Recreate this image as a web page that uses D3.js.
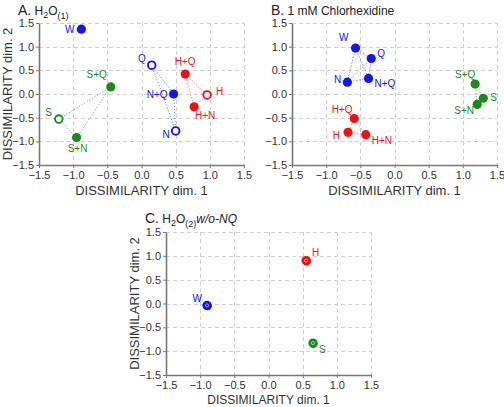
<!DOCTYPE html>
<html><head><meta charset="utf-8">
<script src="https://cdn.jsdelivr.net/npm/d3@7"></script>
<style>
body{margin:0;background:#fff;}
svg{font-family:"Liberation Sans",Arial,sans-serif;}
</style></head>
<body>
<svg id="chart" width="504" height="407"></svg>
<script>
// ---------- DATA ----------
const tickValues = [-1.5, -1.0, -0.5, 0.0, 0.5, 1.0, 1.5];
const axisDomain = [-1.5, 1.5];

// panel A: H2O(1)
const pointsA = [
  {name:"W",   group:"water",  d1:-0.88, d2: 1.37, filled:true},
  {name:"Q",   group:"water",  d1: 0.15, d2: 0.61, filled:false},
  {name:"N+Q", group:"water",  d1: 0.47, d2: 0.00, filled:true},
  {name:"N",   group:"water",  d1: 0.50, d2:-0.78, filled:false},
  {name:"H+Q", group:"hcl",    d1: 0.64, d2: 0.42, filled:true},
  {name:"H",   group:"hcl",    d1: 0.96, d2:-0.02, filled:false},
  {name:"H+N", group:"hcl",    d1: 0.77, d2:-0.27, filled:true},
  {name:"S+Q", group:"sucrose",d1:-0.45, d2: 0.15, filled:true},
  {name:"S",   group:"sucrose",d1:-1.21, d2:-0.53, filled:false},
  {name:"S+N", group:"sucrose",d1:-0.95, d2:-0.92, filled:true}
];
const linksA = [["Q","N+Q"],["Q","N"],["N+Q","N"],["H+Q","H"],["H+Q","H+N"],["H","H+N"],["S+Q","S"],["S+Q","S+N"],["S","S+N"]];

// panel B: 1 mM Chlorhexidine
const pointsB = [
  {name:"W",   group:"water",  d1:-0.57, d2: 0.97, filled:true},
  {name:"Q",   group:"water",  d1:-0.34, d2: 0.75, filled:true},
  {name:"N",   group:"water",  d1:-0.69, d2: 0.25, filled:true},
  {name:"N+Q", group:"water",  d1:-0.38, d2: 0.33, filled:true},
  {name:"H+Q", group:"hcl",    d1:-0.59, d2:-0.52, filled:true},
  {name:"H",   group:"hcl",    d1:-0.68, d2:-0.81, filled:true},
  {name:"H+N", group:"hcl",    d1:-0.42, d2:-0.86, filled:true},
  {name:"S+Q", group:"sucrose",d1: 1.18, d2: 0.21, filled:true},
  {name:"S",   group:"sucrose",d1: 1.30, d2:-0.09, filled:true},
  {name:"S+N", group:"sucrose",d1: 1.21, d2:-0.22, filled:true}
];
const linksB = [["W","Q"],["W","N"],["W","N+Q"],["Q","N"],["Q","N+Q"],["N","N+Q"],["H+Q","H"],["H+Q","H+N"],["H","H+N"],["S+Q","S"],["S+Q","S+N"],["S","S+N"]];

// panel C: H2O(2) w/o-NQ
const pointsC = [
  {name:"W", group:"water",  d1:-0.90, d2:-0.04, filled:true},
  {name:"H", group:"hcl",    d1: 0.55, d2: 0.90, filled:true},
  {name:"S", group:"sucrose",d1: 0.65, d2:-0.83, filled:true}
];
const linksC = [];

// ---------- STYLE / LAYOUT ----------
const colors = {water:"#1414f0", hcl:"#ee1111", sucrose:"#1b8a1b"};
const linkColors = {water:"#7a7af2", hcl:"#f27a7a", sucrose:"#6ab06a"};
const labelOffsetsA = {"W":[-7,4,"end"],"Q":[-6,-3,"end"],"N+Q":[-6,4,"end"],"N":[-6,7,"end"],"H+Q":[0,-9,"middle"],"H":[9,0,"start"],"H+N":[11,12,"middle"],"S+Q":[-14,-9,"middle"],"S":[-7,-3,"end"],"S+N":[1,14,"middle"]};
const labelOffsetsB = {"W":[-7,-7,"end"],"Q":[6,-2,"start"],"N":[-6,1,"end"],"N+Q":[6,9,"start"],"H+Q":[-12,-6,"middle"],"H":[-8,7,"end"],"H+N":[6,9,"start"],"S+Q":[-10,-6,"middle"],"S":[7,3,"start"],"S+N":[-13,10,"middle"]};
const labelOffsetsC = {"W":[-5,-3,"end"],"H":[6,-5,"start"],"S":[6,10,"start"]};

const svg = d3.select("#chart");
const fmt = v => (v < 0 ? "\u2212" : "") + Math.abs(v).toFixed(1);

function drawPanel(box, points, links, offsets, opts) {
  const x = d3.scaleLinear().domain(axisDomain).range([box.x0, box.x1]);
  const y = d3.scaleLinear().domain(axisDomain).range([box.y1, box.y0]);
  const g = svg.append("g");

  // grid
  const grid = g.append("g").attr("stroke","#cfcfcf").attr("stroke-width",1).attr("stroke-dasharray","4,3");
  tickValues.forEach(t => {
    if (t !== axisDomain[0]) {
      grid.append("line").attr("x1",Math.round(x(t))+0.5).attr("x2",Math.round(x(t))+0.5).attr("y1",box.y0).attr("y2",box.y1);
      grid.append("line").attr("x1",box.x0).attr("x2",box.x1).attr("y1",Math.round(y(t))+0.5).attr("y2",Math.round(y(t))+0.5);
    }
  });

  // axes
  const xAxis = d3.axisBottom(x).tickValues(tickValues).tickFormat(fmt).tickSizeInner(3).tickSizeOuter(0).tickPadding(3);
  const yAxis = d3.axisLeft(y).tickValues(tickValues).tickFormat(fmt).tickSizeInner(3).tickSizeOuter(0).tickPadding(2);
  const gx = g.append("g").attr("transform",`translate(0,${box.y1})`).call(xAxis);
  const gy = g.append("g").attr("transform",`translate(${box.x0},0)`).call(yAxis);
  [gx,gy].forEach(a => {
    a.select(".domain").attr("stroke","#777").attr("stroke-width",1.6);
    a.selectAll(".tick line").attr("stroke","#777").attr("stroke-width",1);
    a.selectAll(".tick text").attr("fill","#333").attr("font-size",11).attr("font-family","Liberation Sans, Arial, sans-serif");
  });

  // axis titles
  g.append("text").attr("x",(box.x0+box.x1)/2).attr("y",box.y1+opts.xlabelGap).attr("text-anchor","middle")
    .attr("font-size",opts.xlabelSize).attr("fill","#333").text("DISSIMILARITY dim. 1");
  if (opts.ylabel) {
    g.append("text").attr("transform",`translate(${box.x0-27},${(box.y0+box.y1)/2}) rotate(-90)`)
      .attr("text-anchor","middle").attr("font-size",13).attr("fill","#333").text("DISSIMILARITY dim. 2");
  }

  // links
  const byName = {};
  points.forEach(p => byName[p.name] = p);
  links.forEach(([a,b]) => {
    const pa = byName[a], pb = byName[b];
    g.append("line").attr("x1",x(pa.d1)).attr("y1",y(pa.d2)).attr("x2",x(pb.d1)).attr("y2",y(pb.d2))
      .attr("stroke",linkColors[pa.group]).attr("stroke-width",1).attr("stroke-dasharray","1.2,1.8");
  });

  // points
  points.forEach(p => {
    const cx = x(p.d1), cy = y(p.d2), c = colors[p.group];
    if (p.filled) {
      g.append("circle").attr("cx",cx).attr("cy",cy).attr("r",4.6).attr("fill",c);
      if (opts.double) {
        g.append("circle").attr("cx",cx+0.5).attr("cy",cy+0.5).attr("r",3.6).attr("fill","none").attr("stroke",c).attr("stroke-width",1.5);
        g.append("circle").attr("cx",cx).attr("cy",cy).attr("r",1.6).attr("fill","none").attr("stroke","#fff").attr("stroke-opacity",0.7).attr("stroke-width",0.8);
      }
    } else {
      g.append("circle").attr("cx",cx).attr("cy",cy).attr("r",3.8).attr("fill","#fff").attr("stroke",c).attr("stroke-width",1.9);
    }
    const o = offsets[p.name];
    g.append("text").attr("x",cx+o[0]).attr("y",cy+o[1]).attr("text-anchor",o[2])
      .attr("font-size",10).attr("fill",c).text(p.name);
  });
}

drawPanel({x0:39,x1:244,y0:23,y1:165}, pointsA, linksA, labelOffsetsA, {ylabel:true, xlabelGap:30, xlabelSize:13});
drawPanel({x0:292,x1:497,y0:23,y1:165}, pointsB, linksB, labelOffsetsB, {ylabel:false, xlabelGap:30, xlabelSize:13});
drawPanel({x0:166,x1:371,y0:232,y1:375}, pointsC, linksC, labelOffsetsC, {ylabel:true, double:true, xlabelGap:29, xlabelSize:12});

// panel titles
function title(xp, yp, letter, parts) {
  const t = svg.append("text").attr("x",xp).attr("y",yp).attr("fill","#222");
  t.append("tspan").attr("font-size",14).text(letter);
  parts.forEach(pt => {
    const s = t.append("tspan").attr("font-size",pt.size || 12).text(pt.text);
    if (pt.dy) s.attr("dy",pt.dy);
    if (pt.italic) s.attr("font-style","italic");
  });
}
title(18, 15, "A.", [{text:" H"},{text:"2",size:9,dy:3},{text:"O",dy:-3},{text:"(1)",size:9,dy:4}]);
title(271, 15, "B.", [{text:" 1 mM Chlorhexidine"}]);
title(145, 223, "C.", [{text:" H"},{text:"2",size:9,dy:3},{text:"O",dy:-3},{text:"(2)",size:9,dy:4},{text:"w/o-NQ",italic:true,dy:-4}]);
</script>
</body></html>
